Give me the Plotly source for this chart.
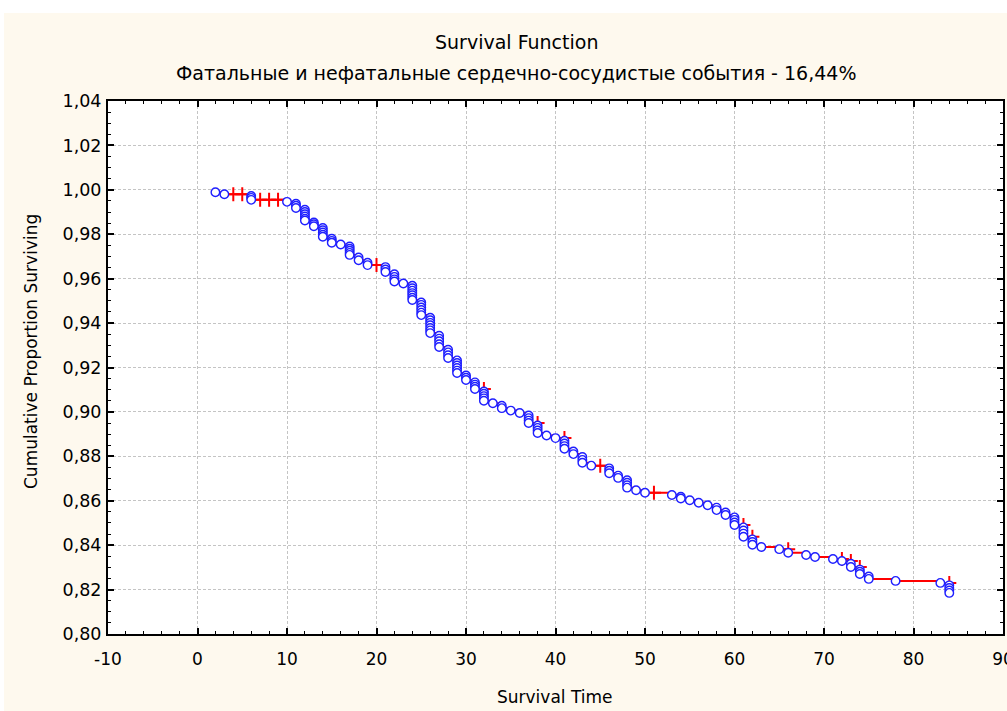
import plotly.graph_objects as go

# ---------------- data ----------------
event_times = [
    2, 3,
    6, 6, 6,
    10,
    11, 11, 11,
    12, 12, 12, 12, 12, 12,
    13, 13, 13,
    14, 14, 14, 14, 14,
    15, 15, 15,
    16,
    17, 17, 17, 17, 17,
    18, 18,
    19, 19,
    21, 21, 21,
    22, 22, 22, 22,
    23,
    24, 24, 24, 24, 24, 24, 24,
    25, 25, 25, 25, 25, 25,
    26, 26, 26, 26, 26, 26, 26,
    27, 27, 27, 27, 27,
    28, 28, 28, 28,
    29, 29, 29, 29, 29, 29,
    30, 30, 30,
    31, 31, 31, 31,
    32, 32, 32, 32, 32,
    33,
    34, 34,
    35,
    36,
    37, 37, 37, 37,
    38, 38, 38, 38,
    39,
    40,
    41, 41, 41, 41,
    42, 42,
    43, 43, 43,
    44,
    46, 46, 46,
    47, 47,
    48, 48, 48, 48,
    49,
    50,
    53,
    54, 54,
    55,
    56,
    57,
    58, 58,
    59, 59,
    60, 60, 60, 60,
    61, 61, 61, 61,
    62, 62, 62,
    63,
    65,
    66,
    68,
    69,
    71,
    72,
    73, 73,
    74, 74, 74,
    75, 75,
    78,
    83,
    84, 84, 84, 84,
]
event_surv = [
    0.9989, 0.9980,
    0.9972, 0.9964, 0.9955,
    0.9946,
    0.9937, 0.9928, 0.9918,
    0.9910, 0.9900, 0.9890, 0.9880, 0.9870, 0.9862,
    0.9853, 0.9845, 0.9836,
    0.9828, 0.9818, 0.9808, 0.9798, 0.9789,
    0.9780, 0.9770, 0.9762,
    0.9754,
    0.9745, 0.9735, 0.9726, 0.9716, 0.9707,
    0.9695, 0.9683,
    0.9672, 0.9661,
    0.9652, 0.9641, 0.9630,
    0.9620, 0.9608, 0.9597, 0.9587,
    0.9578,
    0.9568, 0.9557, 0.9546, 0.9535, 0.9525, 0.9514, 0.9504,
    0.9493, 0.9482, 0.9470, 0.9459, 0.9447, 0.9436,
    0.9424, 0.9413, 0.9401, 0.9390, 0.9378, 0.9367, 0.9355,
    0.9343, 0.9330, 0.9318, 0.9305, 0.9292,
    0.9280, 0.9268, 0.9255, 0.9243,
    0.9232, 0.9220, 0.9209, 0.9198, 0.9186, 0.9175,
    0.9164, 0.9154, 0.9144,
    0.9133, 0.9123, 0.9113, 0.9103,
    0.9092, 0.9082, 0.9071, 0.9061, 0.9050,
    0.9039,
    0.9028, 0.9017,
    0.9006,
    0.8995,
    0.8984, 0.8972, 0.8961, 0.8950,
    0.8939, 0.8928, 0.8916, 0.8905,
    0.8894,
    0.8882,
    0.8870, 0.8858, 0.8846, 0.8834,
    0.8822, 0.8810,
    0.8797, 0.8784, 0.8771,
    0.8758,
    0.8746, 0.8735, 0.8724,
    0.8713, 0.8703,
    0.8692, 0.8681, 0.8670, 0.8659,
    0.8647,
    0.8636,
    0.8626,
    0.8618, 0.8610,
    0.8602,
    0.8591,
    0.8580,
    0.8569, 0.8558,
    0.8547, 0.8536,
    0.8525, 0.8514, 0.8502, 0.8491,
    0.8480, 0.8466, 0.8452, 0.8438,
    0.8426, 0.8414, 0.8402,
    0.8392,
    0.8382,
    0.8366,
    0.8356,
    0.8347,
    0.8338,
    0.8329,
    0.8316, 0.8302,
    0.8290, 0.8280, 0.8270,
    0.8259, 0.8248,
    0.8239,
    0.8230,
    0.8219, 0.8207, 0.8196, 0.8185,
]

censored_times = [4, 5, 7, 8, 9, 20, 32, 38, 41, 45, 51, 61, 62, 66, 72, 73, 74, 84]
censored_surv = [0.9980, 0.9980, 0.9955, 0.9955, 0.9955, 0.9661, 0.9103, 0.8950,
                 0.8882, 0.8758, 0.8636, 0.8491, 0.8438, 0.8382, 0.8338, 0.8329,
                 0.8302, 0.8230]

x_tick_vals = [-10, 0, 10, 20, 30, 40, 50, 60, 70, 80, 90]
x_tick_text = ["-10", "0", "10", "20", "30", "40", "50", "60", "70", "80", "90"]
y_tick_vals = [0.80, 0.82, 0.84, 0.86, 0.88, 0.90, 0.92, 0.94, 0.96, 0.98, 1.00, 1.02, 1.04]
y_tick_text = ["0,80", "0,82", "0,84", "0,86", "0,88", "0,90", "0,92", "0,94",
               "0,96", "0,98", "1,00", "1,02", "1,04"]

title_text = "Survival Function"
subtitle_text = "Фатальные и нефатальные сердечно-сосудистые события - 16,44%"
x_title = "Survival Time"
y_title = "Cumulative Proportion Surviving"

# ---------------- step line through all observations ----------------
pts = [(t, s) for t, s in zip(event_times, event_surv)] + \
      [(t, s) for t, s in zip(censored_times, censored_surv)]
pts.sort(key=lambda p: (p[0], -p[1]))
line_x = [p[0] for p in pts]
line_y = [p[1] for p in pts]

FONT = "DejaVu Sans"
W, H = 1007, 711
L, R, T, B = 108, 4, 101, 77
PW, PH = W - L - R, H - T - B


def px_to_paper_x(px):
    return (px - L) / PW


def py_to_paper_y(py):
    return (H - B - py) / PH


fig = go.Figure()
fig.add_trace(go.Scatter(x=line_x, y=line_y, mode="lines", line_shape="hv",
                         line=dict(color="#ff0000", width=2), hoverinfo="skip",
                         showlegend=False))
fig.add_trace(go.Scatter(x=censored_times, y=censored_surv, mode="markers",
                         marker=dict(symbol="cross-thin", size=10,
                                     line=dict(color="#ff0000", width=2)),
                         showlegend=False))
fig.add_trace(go.Scatter(x=event_times, y=event_surv, mode="markers",
                         marker=dict(symbol="circle", size=8.5, color="white",
                                     line=dict(color="#1f1fff", width=1.4)),
                         showlegend=False))

axis_common = dict(showline=True, linecolor="black", linewidth=2, mirror="allticks",
                   ticks="inside", ticklen=6, tickwidth=1.5, tickcolor="black",
                   showgrid=True, gridcolor="#c4c4c4", gridwidth=1, griddash="3px,2px",
                   zeroline=False, automargin=False, ticklabeloverflow="allow")

fig.update_xaxes(range=[-10, 90], tickmode="array", tickvals=x_tick_vals,
                 ticktext=x_tick_text, ticklabelstandoff=9,
                 tickfont=dict(family=FONT, size=17, color="black"),
                 minor=dict(ticks="inside", dtick=2, tick0=0, ticklen=3,
                            tickcolor="black", tickwidth=1, showgrid=False),
                 **axis_common)
fig.update_yaxes(range=[0.80, 1.04], tickmode="array", tickvals=y_tick_vals,
                 ticktext=y_tick_text, ticklabelstandoff=1,
                 tickfont=dict(family=FONT, size=17.5, color="black"),
                 minor=dict(ticks="inside", dtick=0.005, tick0=0.8, ticklen=3,
                            tickcolor="black", tickwidth=1, showgrid=False),
                 **axis_common)

fig.update_layout(
    width=W, height=H, template="none",
    margin=dict(l=L, r=R, t=T, b=B, pad=0),
    paper_bgcolor="#fef9ee", plot_bgcolor="white",
    showlegend=False,
    shapes=[
        dict(type="rect", xref="paper", yref="paper", layer="below",
             x0=px_to_paper_x(0), x1=px_to_paper_x(W), y0=py_to_paper_y(13),
             y1=py_to_paper_y(0), fillcolor="white", line_width=0),
        dict(type="rect", xref="paper", yref="paper", layer="below",
             x0=px_to_paper_x(0), x1=px_to_paper_x(4), y0=py_to_paper_y(H),
             y1=py_to_paper_y(0), fillcolor="white", line_width=0),
    ],
    annotations=[
        dict(text=title_text, xref="paper", yref="paper", x=px_to_paper_x(516),
             y=py_to_paper_y(42), showarrow=False, xanchor="center", yanchor="middle",
             font=dict(family=FONT, size=19, color="black")),
        dict(text=subtitle_text, xref="paper", yref="paper", x=px_to_paper_x(516),
             y=py_to_paper_y(73), showarrow=False, xanchor="center", yanchor="middle",
             font=dict(family=FONT, size=19, color="black")),
        dict(text=x_title, xref="paper", yref="paper", x=px_to_paper_x(555),
             y=py_to_paper_y(697), showarrow=False, xanchor="center", yanchor="middle",
             font=dict(family=FONT, size=17, color="black")),
        dict(text=y_title, xref="paper", yref="paper", x=px_to_paper_x(31),
             y=py_to_paper_y(352), showarrow=False, xanchor="center", yanchor="middle",
             textangle=-90, font=dict(family=FONT, size=17, color="black")),
    ],
)

fig.write_html("out.html", config={"displayModeBar": False},
               post_script="document.body.style.margin='0';document.body.style.padding='0';")
